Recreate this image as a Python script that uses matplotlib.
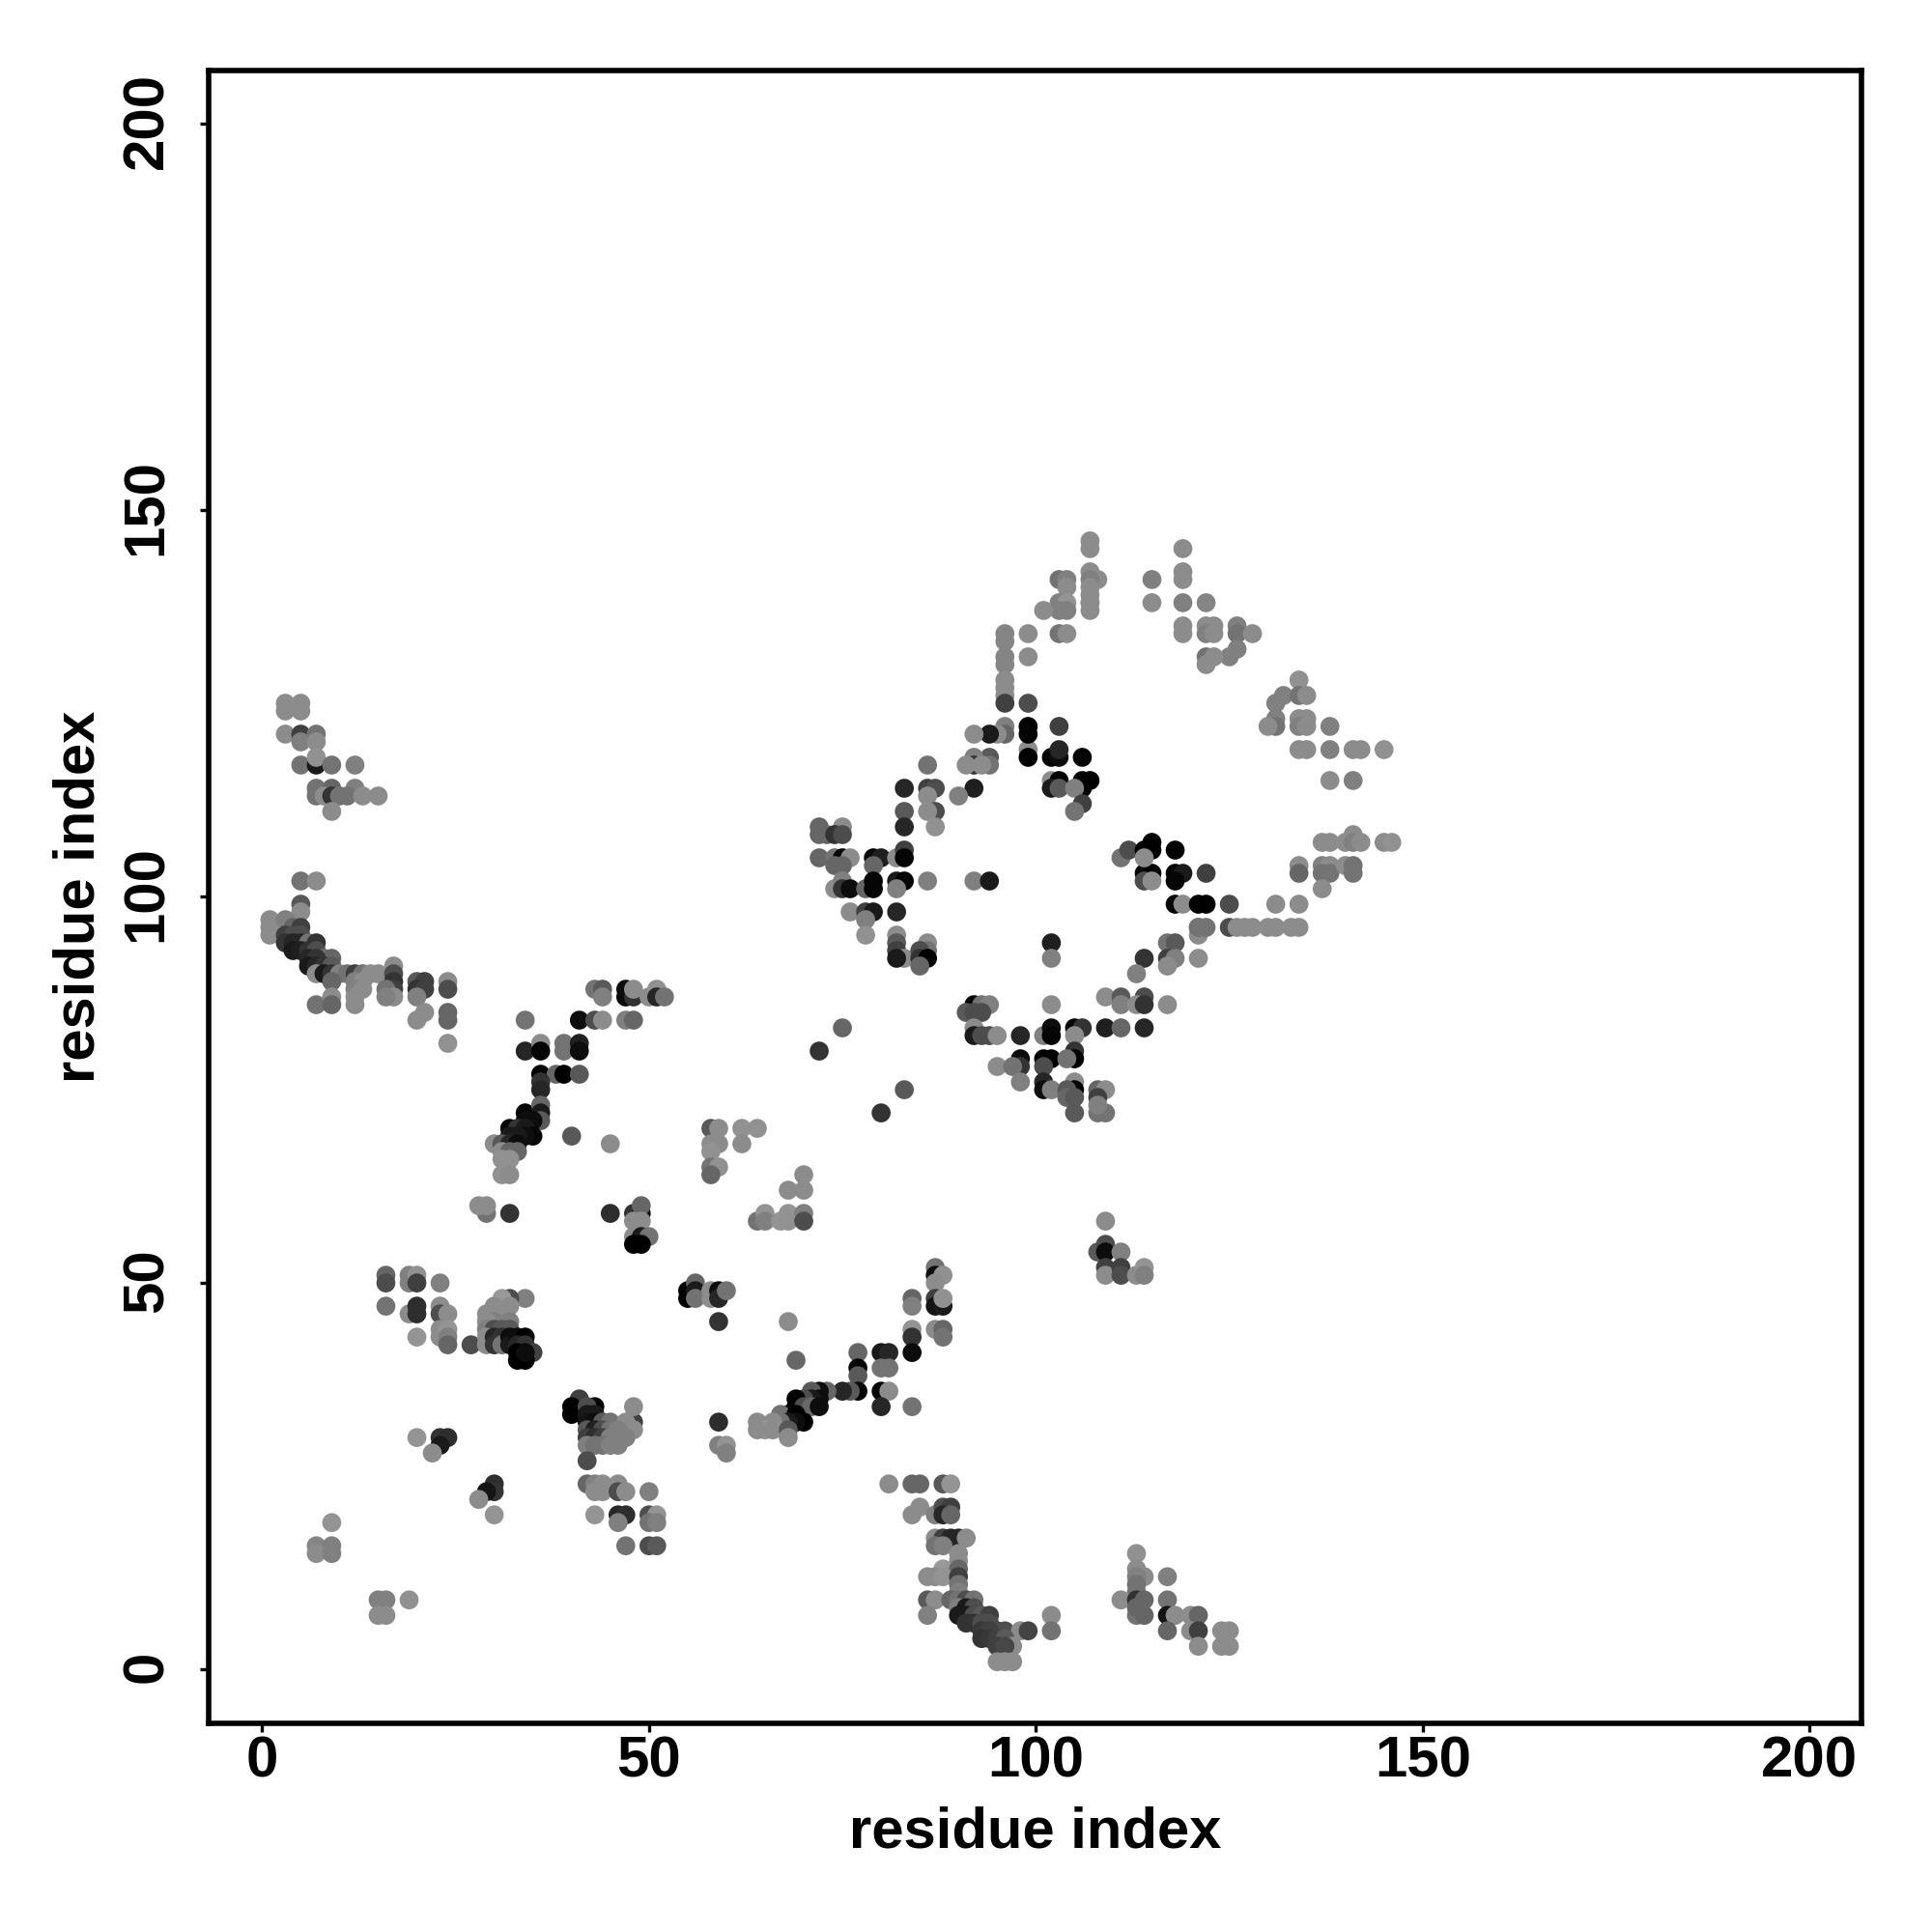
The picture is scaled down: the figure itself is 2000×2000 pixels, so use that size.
import matplotlib
matplotlib.use("Agg")
import matplotlib.pyplot as plt
from matplotlib.transforms import ScaledTranslation

# residue_i, residue_j and grey level of each contact, cluster by cluster
residue_i = [
 16,16,19,19,20,20,23,16,19,20,20,23,23,24,20,23,23,24,24,24,27,
 34,32,31,32,30,31,29,32,30,29,29,30,31,32,29,29,30,30,31,31,32,32,33,34,33,34,35,33,34,33,34,
 20,23,24,23,22,30,30,29,28,30,9,7,9,7,9,15,16,19,15,16,
 41,40,40,43,42,42,43,42,43,44,45,48,48,47,48,42,43,44,45,46,47,42,43,44,45,46,42,43,44,45,46,42,
 42,43,44,46,43,44,46,47,50,43,46,47,46,50,51,50,51,47,50,51,
 59,59,59,60,60,55,55,56,56,56,58,58,59,59,60,
 29,28,29,32,45,48,49,49,48,49,48,49,50,48,49,
 109,108,109,109,111,109,109,111,111,113,114,114,
 87,87,88,87,84,84,87,87,88,88,84,84,87,88,88,84,68,69,
 77,77,77,80,81,80,81,77,76,75,80,81,80,84,
 73,72,71,72,71,70,69,69,70,71,72,68,67,69,70,69,68,67,66,64,65,64,66,68,68,
 64,65,65,67,68,68,70,70,
 81,84,85,88,89,85,84,87,88,89,88,89,87,88,89,90,91,87,88,
 90,90,88,90,86,87,88,90,90,90,86,87,89,90,91,92,86,90,91,92,90,91,92,93,94,
 91,92,93,94,95,96,98,99,93,94,93,94,95,96,97,95,96,95,96,97,102,102,
 113,113,114,113,113,113,111,113,114,113,114,113,117,117,117,118,117,120,121,120,121,121,124,124,125,125,
 3,3,5,5,3,5,5,7,7,5,7,7,9,12,7,9,12,7,8,9,10,11,13,15,9,
 5,7,5,5,1,1,1,3,4,5,3,4,5,3,4,5,6,7,4,5,6,7,8,9,6,7,6,7,8,9,
 7,8,9,10,11,12,13,14,15,17,17,17,17,9,12,13,12,13,16,17,16,12,12,7,9,9,
 20,21,20,21,20,24,24,21,20,24,24,24,
 34,41,43,44,47,48,43,44,44,47,47,48,48,50,51,51,52,
 34,36,36,39,39,41,41,36,38,39,41,36,36,34,36,36,36,35,34,32,33,34,35,34,33,32,40,30,31,32,33,45,31,32,33,31,32,31,32,
 58,59,62,58,59,62,58,58,59,58,64,70,68,70,
 107,107,107,108,107,107,107,107,107,119,107,103,104,104,103,104,103,104,101,103,104,
 115,115,119,119,119,122,119,119,122,123,122,123,126,126,128,126,125,122,123,122,
 96,96,99,96,99,96,96,96,96,96,99,99,103,96,96,95,94,92,99,99,99,102,103,103,106,94,92,92,94,93,91,86,
 83,86,87,92,102,103,102,103,106,107,106,105,90,106,105,86,87,83,86,83,87,
 72,75,72,73,74,75,72,74,75,76,74,75,79,80,82,83,83,79,74,75,75,76,78,79,79,82,83,86,92,94,82,
 76,78,79,82,78,78,82,82,82,83,82,86,86,85,85,86,85,102,102,
 114,113,117,118,117,118,117,121,121,121,121,122,125,126,127,128,130,131,133,134,125,131,134,
 118,119,121,122,114,115,114,115,118,119,118,122,111,112,114,115,115,118,114,
 134,134,137,138,137,138,137,140,141,141,137,138,140,141,141,142,145,146,
 131,132,134,134,135,131,131,130,134,135,134,135,138,134,135,138,141,142,145,138,141,
 102,92,93,94,91,92,93,92,92,93,94,95,98,101,102,102,105,106,105,109,111,114,
 109,111,114,111,113,114,117,98,98,101,102,105,105,104,101,95,97,98,101,101,102,
 105,105,104,104,105,105,108,109,108,108,109,108,83,80,75,72,
]
residue_j = [
 51,50,51,50,51,50,50,47,46,47,46,47,46,46,43,44,43,44,43,42,42,
 48,48,48,47,47,46,46,45,45,45,44,44,44,44,43,42,43,42,43,42,43,42,43,43,42,42,41,40,40,41,41,
 30,30,30,29,28,24,23,23,22,20,19,16,16,15,15,9,9,9,7,7,
 35,34,33,34,34,33,33,32,32,32,32,32,34,32,31,31,31,31,31,31,30,30,30,30,30,30,29,29,29,29,29,27,
 24,24,24,24,23,23,23,23,23,20,20,20,19,20,20,19,19,16,16,16,
 45,32,29,29,28,49,48,50,49,48,49,48,49,48,49,
 59,60,60,59,59,59,59,60,58,58,56,56,56,55,55,
 58,54,55,54,54,52,51,52,51,51,52,51,
 52,51,51,50,48,47,48,47,47,48,44,43,44,44,43,41,45,40,
 41,39,38,41,41,39,39,36,36,36,36,36,34,34,
 36,36,36,35,35,35,35,34,34,34,34,33,33,33,32,32,32,32,32,32,31,31,31,31,30,
 58,59,58,58,59,58,59,58,
 24,24,24,24,24,21,20,20,21,21,20,20,17,17,17,17,17,16,16,
 15,14,13,13,12,12,12,12,11,10,9,9,9,9,9,9,7,8,8,8,7,7,7,7,7,
 6,6,6,6,5,5,5,5,5,5,4,4,4,4,3,3,3,1,1,1,7,5,
 15,13,12,12,11,10,9,9,9,7,7,8,12,9,7,7,5,7,7,5,5,3,5,3,5,3,
 125,124,125,124,121,121,120,121,120,117,117,118,117,117,114,114,114,113,113,113,113,113,113,113,111,
 102,102,99,98,97,96,95,97,96,96,95,95,95,94,94,94,94,94,93,93,93,93,92,92,92,92,91,91,91,91,
 90,90,90,90,90,90,90,90,90,91,90,89,88,89,89,89,88,88,88,87,87,87,86,86,87,86,
 89,89,88,88,87,89,88,85,84,85,84,81,
 84,84,84,84,84,84,88,88,87,88,87,87,88,87,88,87,87,
 80,81,80,81,80,81,80,77,77,77,77,76,75,72,73,72,71,71,71,70,70,70,69,69,69,69,69,68,68,68,68,68,67,67,67,66,66,64,64,
 70,70,70,68,68,68,67,65,65,64,70,64,62,62,
 146,145,142,141,141,140,139,138,137,145,138,141,141,140,138,138,137,137,137,134,134,
 141,138,142,141,138,138,135,134,135,135,134,134,135,134,134,132,131,131,131,130,
 134,133,134,131,131,130,128,127,126,125,125,122,122,122,121,121,121,121,119,118,121,118,118,119,118,118,118,117,117,117,117,117,
 114,114,114,114,115,115,114,114,115,115,114,114,113,112,111,113,111,111,111,109,109,
 109,109,108,108,108,108,105,105,105,105,104,104,105,105,105,106,105,104,101,102,101,101,101,102,101,102,102,102,102,102,101,
 98,98,98,98,97,95,95,94,93,92,92,94,93,93,92,92,91,94,92,
 92,90,94,94,92,92,91,95,92,96,96,96,96,96,96,96,96,96,96,96,99,99,99,
 99,99,99,99,103,103,102,102,103,103,102,103,105,106,106,107,106,106,105,
 104,103,104,104,103,103,101,104,104,103,107,107,107,108,107,107,107,107,
 125,126,128,126,126,123,122,122,123,123,122,122,122,119,119,119,119,119,119,115,115,
 86,86,86,86,85,85,85,83,82,82,82,82,82,82,83,82,83,83,82,83,83,83,
 87,87,87,86,86,86,86,79,78,79,79,80,79,79,78,78,78,76,76,75,75,
 76,75,75,74,74,72,75,75,74,72,72,73,75,72,83,80,
]
shade = [
 .4,.3,.5,.5,.57,.25,.5,.45,.55,.18,.18,.55,.3,.55,.58,.55,.55,.58,.5,.4,.3,
 .5,.3,.6,.55,.55,.55,.55,.5,.5,.55,.5,.3,.35,.35,.55,.55,.15,.2,.2,.45,.05,.1,.05,0,.15,.2,.25,0,0,0,.05,
 .58,.2,.18,.1,.55,.18,.2,.08,.55,.58,.58,.52,.5,.55,.5,.5,.5,.57,.55,.55,
 .25,0,0,.02,.3,.1,.1,.08,.05,.35,.45,.25,.55,.55,.55,.35,.12,.3,.45,.5,.5,.25,.18,.25,.5,.5,.5,.45,.45,.5,.5,.3,
 .4,.5,.55,.55,.55,.55,.3,.55,.5,.58,.15,.18,.5,.3,.58,.45,.5,.45,.3,.35,
 .2,.18,.5,.58,.5,0,0,.4,.1,.45,.55,.55,.05,.15,.45,
 .45,.55,.55,.2,.18,.2,.05,.4,.55,.55,.55,.1,.45,0,0,
 .55,.35,.3,.05,.5,.25,.55,.25,.3,.55,.58,.5,
 .45,.05,.57,.55,.4,.5,.25,.08,.1,.57,.58,.2,.55,.4,.45,.05,.55,.4,
 .4,.02,.35,.1,.15,.45,.45,.02,.35,.15,.02,.55,.15,.45,
 .4,.05,.35,.05,.1,.3,.02,0,.3,.4,.05,.05,.45,0,0,.05,.1,.45,.55,.55,.58,.55,.55,.35,.55,
 .45,.58,.5,.58,.58,.57,.5,.3,
 .55,.4,.4,.35,.58,.55,.55,.5,.3,.25,.15,.4,.55,.25,.15,.15,.55,.45,.5,
 .55,.55,.6,.4,.55,.55,.58,.25,.45,.5,.35,.55,.4,.45,.3,.45,.5,.5,.1,.3,.1,.1,.3,.35,.25,
 .2,.2,.3,.3,.3,.3,.55,.27,.22,.25,.2,.22,.25,.35,.55,.25,.28,.55,.55,.55,.55,.45,
 .57,.55,.55,.5,.45,.45,.55,.2,.4,.45,.4,.4,.5,.45,.08,.55,.4,.55,.4,.55,.25,.55,.55,.55,.55,.55,
 .55,.55,.55,.55,.55,.25,.5,.45,.55,.45,.1,.57,.45,.5,.45,.4,.5,.45,.55,.2,.45,.45,.55,.55,.55,
 .45,.55,.35,.55,.55,.55,.55,.5,.4,.25,.25,.3,.3,.2,.15,.15,.45,.2,.1,.12,.2,.3,.45,.4,.15,.2,.1,.15,.2,.35,
 .55,.1,.2,.5,.45,.25,.45,.55,.55,.55,.3,.2,.25,.4,.5,.55,.5,.55,.45,.55,.5,.55,.55,.45,.55,.4,
 .35,.25,.2,.25,.5,.55,.3,.55,.55,.4,.4,.57,
 .45,.05,.3,.55,.5,.4,.45,.35,.5,.05,.05,.2,.55,.55,.57,.15,.45,
 .15,.55,.02,.45,.45,.12,.05,.02,.4,0,.35,.2,.15,.02,.4,.1,.35,.05,.05,.02,.2,.1,.02,.05,.1,.1,.35,.55,.35,.15,.05,.55,.55,.4,.4,.57,.57,.57,.55,
 .35,.55,.57,.55,.55,.55,.57,.45,.57,.4,.57,.55,.55,.55,
 .55,.55,.55,.55,.5,.55,.55,.55,.55,.55,.55,.45,.5,.55,.5,.58,.5,.5,.55,.45,.55,
 .5,.55,.55,.55,.5,.52,.55,.55,.55,.55,.5,.55,.5,.45,.55,.5,.5,.45,.55,.55,
 .52,.52,.55,.52,.55,.52,.55,.55,.55,.25,.3,0,.25,.5,.4,.55,.1,.55,.55,0,.02,.02,.05,.15,.02,.35,.5,.2,.45,.55,.55,.45,
 .15,.25,.3,.12,.55,0,.1,.35,0,0,0,.5,.5,.25,.45,.55,.3,.35,.55,.15,.57,
 .4,.55,.4,.4,.2,.3,.4,.45,.02,.55,.4,.4,.02,.12,.55,.25,.02,.4,.55,.5,.2,.05,.4,.02,.02,.1,.02,.5,.5,.1,.5,
 .55,.25,.1,.15,.5,.57,.55,.35,.25,.55,.1,.55,.45,.3,.2,0,.4,.12,.5,
 .2,.5,.45,.35,.25,.5,.55,.55,.55,.45,.45,.45,.3,.55,.55,.55,.55,.55,.55,.55,.3,.55,.55,
 .02,.55,0,0,.02,0,.3,.55,0,.1,.02,.25,.45,.3,0,0,0,0,.55,
 .55,.4,.5,.55,.45,.45,.55,.55,.45,.45,.55,.55,.55,.55,.5,.55,.55,.57,
 .5,.5,.57,.45,.55,.5,.45,.55,.55,.55,.5,.55,.5,.55,.55,.5,.55,.55,.57,.55,.5,
 .55,.02,.45,.5,.35,.3,.3,.55,.1,.3,.3,.55,.15,.5,.05,.02,.02,.2,.55,.12,.4,.15,
 .55,.35,.3,.5,.55,.2,.55,.05,.2,0,0,.2,0,.45,.3,.55,.45,.5,.15,.05,.5,
 .55,0,.35,.4,.35,.35,.4,.55,.25,.45,.45,.5,.35,.2,.4,.2,
]

if not (len(residue_i) == len(residue_j) == len(shade)):
    raise SystemExit(f"lengths differ: {len(residue_i)} {len(residue_j)} {len(shade)}")

plt.rcParams['font.family'] = ['Liberation Sans', 'DejaVu Sans']
plt.rcParams['font.weight'] = 'bold'

fig = plt.figure(figsize=(10, 10), dpi=200)
ax = fig.add_axes([0.10815, 0.1082, 0.85535, 0.8555])
ax.scatter(residue_i, residue_j, s=50, c=[str(v) for v in shade], linewidths=0, zorder=2)
ax.set_xlim(-6.87, 206.7)
ax.set_ylim(-6.92, 206.9)
ax.set_xticks([0, 50, 100, 150, 200])
ax.set_yticks([0, 50, 100, 150, 200])
ax.tick_params(length=3.2, width=1.2, labelsize=21.6)
ax.tick_params(axis='x', pad=1.5)
ax.tick_params(axis='y', pad=9.8)
nudge = ScaledTranslation(0, 1.0 / 72, fig.dpi_scale_trans)
for lab in ax.get_yticklabels():
    lab.set_rotation(90)
    lab.set_va('center')
    lab.set_transform(lab.get_transform() + nudge)
for sp in ax.spines.values():
    sp.set_linewidth(2.0)
ax.set_xlabel('residue index', fontsize=21.5, fontweight='bold')
ax.set_ylabel('residue index', fontsize=21.5, fontweight='bold')
ax.xaxis.set_label_coords(0.5, -0.0503)
ax.yaxis.set_label_coords(-0.0626, 0.5)
fig.savefig('out.png', dpi=200)
